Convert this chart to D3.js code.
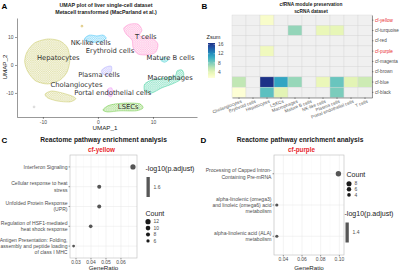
<!DOCTYPE html>
<html>
<head>
<meta charset="utf-8">
<script src="https://d3js.org/d3.v7.min.js"></script>
<style>
    body { margin: 0; background: #fff; }
    svg { display: block; font-family: "Liberation Sans", Arial, sans-serif; }
</style>
</head>
<body>
<div id="chart"></div>
<script>
// ---------- Panel A: UMAP clusters (outline points in UMAP units) ----------
const umapNames = ["Hepatocytes", "Cholangiocytes", "NK-like cells", "T cells", "Mature B cells",
    "Plasma cells", "Macrophages", "Portal endothelial cells", "LSECs"];
const umapColors = ["#b5b52a", "#b5b52a", "#00b0f6", "#ff62bc", "#00bfc4",
    "#9590ff", "#00bf7d", "#e76bf3", "#39b600"];
const umapOutlines = [
    [[-12.9, 4.6], [-11.5, 7.9], [-9.1, 9.3], [-6.9, 8.6], [-5.5, 6.1], [-5.1, 1.8], [-5.6, -2.5], [-6.9, -5.4], [-9.1, -6.8], [-11.3, -5.7], [-12.7, -2.5], [-13.3, 1.1]],
    [[-9.6, -10.4], [-8.4, -9.3], [-6.5, -10], [-4.7, -11.1], [-4, -12.1], [-5.1, -13.2], [-7.3, -12.9], [-9.1, -11.8]],
    [[-2.4, 9.6], [-1.5, 10.7], [-0.2, 10.4], [0.9, 10.7], [1.5, 9.6], [0.5, 8.2], [-1.1, 8.2], [-2.2, 8.6]],
    [[4.7, 13.2], [5.8, 14.6], [7.3, 14.6], [8, 12.5], [7.6, 10.4], [9.8, 9.6], [10.9, 7.5], [10.5, 4.6], [9.1, 3.6], [7.3, 3.9], [6.4, 6.1], [6.2, 8.9], [5.1, 11.1]],
    [[11.6, 2.4], [12.4, 2.6], [12.7, 1.6], [12.1, 1.0], [11.5, 1.5]],
    [[0.7, -1.8], [1.5, -0.7], [2.4, -0.4], [2.5, -1.8], [2, -3.6], [0.9, -3.2]],
    [[8.5, -6.8], [9.8, -5.4], [12.2, -4.6], [14, -3.9], [14.4, -2.1], [15.3, -1.8], [15.6, -3.6], [14.9, -5.4], [13.5, -6.8], [11.6, -8.2], [9.8, -10], [8.5, -9.3]],
    [[1.8, -8.6], [2.5, -8.2], [2.7, -10], [2.4, -11.4], [1.8, -10.7]],
    [[0.9, -16.1], [1.8, -14.6], [3.3, -13.9], [5.5, -13.6], [7.6, -13.9], [8.2, -15.4], [6.9, -16.4], [4, -16.4], [1.8, -16.8]]
];
const umapLabels = ["Hepatocytes", "NK-like cells", "T cells", "Erythroid cells", "Mature B cells",
    "Plasma cells", "Macrophages", "Cholangiocytes", "Portal endothelial cells", "LSECs"];
const umapLabelAt = [[-7.2, 2.5], [-1.3, 7.9], [8.7, 10], [2.2, 5.2], [13.2, 2.5],
    [0.2, -3.6], [13.1, -4.6], [-3.9, -7.1], [2.7, -10], [5.5, -15]];
const umapStrays = [[-2.9, 13.9], [-11.6, -15]];
const umapStrayColors = ["#c9a42c", "#bdbdbd"];
const umapTicks = [-10, 0, 10];

// ---------- Panel B: Zsum heatmap ----------
const heatCols = ["Cholangiocytes", "Erythroid cells", "Hepatocytes", "LSECs", "Macrophages",
    "Mature B cells", "NK-like cells", "Plasma cells", "Portal endothelial cells", "T cells"];
const heatRows = ["cf-yellow", "cf-turquoise", "cf-red", "cf-purple", "cf-magenta", "cf-brown", "cf-blue", "cf-black"];
const heatHighlight = ["cf-yellow", "cf-purple"];
const zsum = [
    [null, null, 2.2, null, null, null, null, null, null, null],
    [null, null, null, null, 7.2, null, 3.5, 3.7, null, null],
    [null, null, null, null, null, null, null, null, null, null],
    [null, null, 3.0, null, null, null, null, null, null, null],
    [null, null, null, null, null, null, null, null, null, null],
    [null, null, null, null, null, null, null, null, null, null],
    [5.7, null, 16.7, 10.9, 7.1, null, 3.4, 8.6, 4.0, 5.2],
    [1.6, null, 9.0, 4.0, null, null, null, 8.0, null, null]
];
const zsumTicks = [4, 8, 12, 16];

// ---------- Panel C: cf-yellow enrichment ----------
const yellowTerms = [["Interferon Signaling"], ["Cellular response to heat", "stress"],
    ["Unfolded Protein Response", "(UPR)"], ["Regulation of HSF1-mediated", "heat shock response"],
    ["Antigen Presentation: Folding,", "assembly and peptide loading", "of class I MHC"]];
const yellowRatio = [0.068, 0.0455, 0.0455, 0.0398, 0.0284];
const yellowCount = [12, 8, 8, 7, 5];
const yellowXTicks = [0.03, 0.04, 0.05, 0.06];
const yellowCountBreaks = [12, 10, 8, 6];
const yellowPadj = "1.6";

// ---------- Panel D: cf-purple enrichment ----------
const purpleTerms = [["Processing of Capped Intron-", "Containing Pre-mRNA"],
    ["alpha-linolenic (omega3)", "and linoleic (omega6) acid", "metabolism"],
    ["alpha-linolenic acid (ALA)", "metabolism"]];
const purpleRatio = [0.099, 0.033, 0.033];
const purpleCount = [9, 3, 3];
const purpleXTicks = [0.04, 0.06, 0.08, 0.10];
const purpleCountBreaks = [8, 6, 4];
const purplePadj = "1.4";

const svg = d3.select("#chart").append("svg")
    .attr("width", 400)
    .attr("height", 271);
const defs = svg.append("defs");

const textGrey = "#4d4d4d";
const red = "#e8262b";

// font size that makes `sample` about `w` px wide
function sizeFor(sample, w, bold, family) {
    const t = svg.append("text")
        .attr("font-size", 10)
        .attr("font-weight", bold ? "bold" : null)
        .attr("font-family", family || null)
        .text(sample);
    const len = t.node().getComputedTextLength();
    t.remove();
    return 10 * w / len;
}

const fsTitleA = sizeFor("Metacell transformed (MacParland et al.)", 102, true);
const fsTitleB = sizeFor("cfRNA module preservation", 63, true);
const fsTitleC = sizeFor("Reactome pathway enrichment analysis", 127, true);
const fsSub = sizeFor("cf-yellow", 27, true);
const fsTerm = sizeFor("Interferon Signaling", 44);
const fsRow = sizeFor("cf-turquoise", 24);
const fsCol = sizeFor("Cholangiocytes", 31);
const fsCluster = sizeFor("Portal endothelial cells", 77, false, "DejaVu Sans");
const fsAxisTitle = 6.2;
const fsLegTitle = sizeFor("-log10(p.adjust)", 49);
const fsZsum = 5.6;
const fsTick = fsTerm * 0.98;

// panel letters
[["A", 1.5, 8.5], ["B", 201.5, 8.5], ["C", 1.5, 143], ["D", 200.5, 143]].forEach(l => {
    svg.append("text")
        .attr("x", l[1]).attr("y", l[2])
        .attr("font-size", 8).attr("font-weight", "bold")
        .text(l[0]);
});

function title(x, y, txt, size, color) {
    svg.append("text")
        .attr("x", x).attr("y", y)
        .attr("text-anchor", "middle")
        .attr("font-size", size)
        .attr("font-weight", "bold")
        .attr("fill", color || "#1a1a1a")
        .text(txt);
}

function styleAxis(g) {
    g.select(".domain").attr("stroke", "#333").attr("stroke-width", 0.5);
    g.selectAll(".tick line").attr("stroke", "#333").attr("stroke-width", 0.5);
    g.selectAll(".tick text").attr("fill", textGrey).attr("font-size", fsTick);
    g.attr("font-size", null).attr("font-family", null);
}

// ================= Panel A =================
title(106, 7, "UMAP plot of liver single-cell dataset", fsTitleA);
title(106, 14.4, "Metacell transformed (MacParland et al.)", fsTitleA);

const xA = d3.scaleLinear().domain([-14.7, 18]).range([17, 197]);
const yA = d3.scaleLinear().domain([-18.6, 16.8]).range([117, 18]);

const gA = svg.append("g");

const blob = d3.line()
    .x(d => xA(d[0]))
    .y(d => yA(d[1]))
    .curve(d3.curveCardinalClosed.tension(0.2));

umapOutlines.forEach((pts, i) => {
    // dotted texture mimics the many hollow points of each cluster
    const pat = defs.append("pattern")
        .attr("id", "pat" + i)
        .attr("patternUnits", "userSpaceOnUse")
        .attr("width", 2.2).attr("height", 2.2);
    pat.append("circle")
        .attr("cx", 1.1).attr("cy", 1.1).attr("r", 0.75)
        .attr("fill", "none")
        .attr("stroke", umapColors[i])
        .attr("stroke-opacity", 0.75)
        .attr("stroke-width", 0.3);

    gA.append("path")
        .attr("d", blob(pts))
        .attr("fill", umapColors[i])
        .attr("fill-opacity", 0.07);
    gA.append("path")
        .attr("d", blob(pts))
        .attr("fill", "url(#pat" + i + ")")
        .attr("stroke", umapColors[i])
        .attr("stroke-width", 0.5)
        .attr("stroke-opacity", 0.7);
});

gA.selectAll(".stray")
    .data(umapStrays)
    .enter().append("circle")
    .attr("class", "stray")
    .attr("cx", d => xA(d[0]))
    .attr("cy", d => yA(d[1]))
    .attr("r", 0.9)
    .attr("fill", "none")
    .attr("stroke", (d, i) => umapStrayColors[i])
    .attr("stroke-width", 0.6);

gA.selectAll(".clabel")
    .data(umapLabels)
    .enter().append("text")
    .attr("class", "clabel")
    .attr("x", (d, i) => xA(umapLabelAt[i][0]))
    .attr("y", (d, i) => yA(umapLabelAt[i][1]))
    .attr("dy", "0.35em")
    .attr("text-anchor", "middle")
    .attr("font-family", "DejaVu Sans")
    .attr("font-size", fsCluster)
    .attr("fill", "#333")
    .text(d => d);

const axA1 = svg.append("g")
    .attr("transform", "translate(0,117)")
    .call(d3.axisBottom(xA).tickValues(umapTicks).tickSize(2).tickSizeOuter(0).tickPadding(1.5).tickFormat(d => String(d)));
styleAxis(axA1);
const axA2 = svg.append("g")
    .attr("transform", "translate(17,0)")
    .call(d3.axisLeft(yA).tickValues(umapTicks).tickSize(2).tickSizeOuter(0).tickPadding(1.5).tickFormat(d => String(d)));
styleAxis(axA2);

svg.append("text")
    .attr("x", 105).attr("y", 130)
    .attr("text-anchor", "middle")
    .attr("font-size", fsAxisTitle).attr("fill", "#1a1a1a")
    .text("UMAP_1");
svg.append("text")
    .attr("transform", "translate(7,67) rotate(-90)")
    .attr("text-anchor", "middle")
    .attr("font-size", fsAxisTitle).attr("fill", "#1a1a1a")
    .text("UMAP_2");

// ================= Panel B =================
title(311, 6.3, "cfRNA module preservation", fsTitleB);
title(311, 12.6, "scRNA dataset", fsTitleB);

const xB = d3.scaleBand().domain(heatCols).range([232, 372]);
const yB = d3.scaleBand().domain(heatRows).range([15, 97.5]);
const zDomain = [1.4, 16.7];
const colorB = d3.scaleSequential(d3.interpolateYlGnBu).domain([1.4, 18.5]);

const cells = [];
heatRows.forEach((r, i) => heatCols.forEach((c, j) => cells.push({ row: r, col: c, v: zsum[i][j] })));

svg.append("g").selectAll("rect")
    .data(cells)
    .enter().append("rect")
    .attr("x", d => xB(d.col))
    .attr("y", d => yB(d.row))
    .attr("width", xB.bandwidth())
    .attr("height", yB.bandwidth())
    .attr("fill", d => d.v == null ? "#f0f0f0" : colorB(d.v))
    .attr("stroke", "#d6d6d6")
    .attr("stroke-width", 0.4);

// right axis with module names
const axBR = svg.append("g")
    .attr("transform", "translate(372,0)")
    .call(d3.axisRight(yB).tickSize(1.5).tickSizeOuter(0).tickPadding(1.5));
styleAxis(axBR);
axBR.selectAll(".tick text")
    .attr("font-size", fsRow)
    .attr("fill", d => heatHighlight.includes(d) ? red : textGrey);

// bottom axis with slanted cell types
const axBB = svg.append("g")
    .attr("transform", "translate(0,97.5)")
    .call(d3.axisBottom(xB).tickSize(1.5).tickSizeOuter(0).tickPadding(0));
styleAxis(axBB);
axBB.selectAll(".tick text")
    .attr("font-size", fsCol)
    .attr("fill", "#5a5a5a")
    .attr("text-anchor", "end")
    .attr("y", 0)
    .attr("dy", 0)
    .attr("transform", "translate(3,5) rotate(-21)");

// Zsum colour bar
const barY = d3.scaleLinear().domain(zDomain).range([78, 43]);
const grad = defs.append("linearGradient")
    .attr("id", "zgrad")
    .attr("x1", 0).attr("y1", 1).attr("x2", 0).attr("y2", 0);
d3.range(0, 1.01, 0.1).forEach(t => {
    grad.append("stop")
        .attr("offset", t)
        .attr("stop-color", colorB(zDomain[0] + t * (zDomain[1] - zDomain[0])));
});
svg.append("text")
    .attr("x", 206.5).attr("y", 38.5)
    .attr("font-size", fsZsum).attr("fill", "#1a1a1a")
    .text("Zsum");
svg.append("rect")
    .attr("x", 208).attr("y", 43)
    .attr("width", 7).attr("height", 35)
    .attr("fill", "url(#zgrad)");
zsumTicks.forEach(t => {
    svg.append("line")
        .attr("x1", 208).attr("x2", 209.5)
        .attr("y1", barY(t)).attr("y2", barY(t))
        .attr("stroke", "#fff").attr("stroke-width", 0.4);
    svg.append("line")
        .attr("x1", 213.5).attr("x2", 215)
        .attr("y1", barY(t)).attr("y2", barY(t))
        .attr("stroke", "#fff").attr("stroke-width", 0.4);
    svg.append("text")
        .attr("x", 218).attr("y", barY(t))
        .attr("dy", "0.35em")
        .attr("font-size", fsTick).attr("fill", textGrey)
        .text(t);
});

// ================= Panels C and D =================
function dotPlot(cfg) {
    const x = d3.scaleLinear().domain(cfg.xDomain).range([cfg.left, cfg.right]);
    const y = d3.scalePoint().domain(d3.range(cfg.terms.length)).range([cfg.top, cfg.bottom]).padding(0.6);
    const area = d3.scaleLinear().domain(cfg.countDomain).range(cfg.areaRange);
    const r = c => Math.sqrt(area(c));

    const g = svg.append("g");

    // gridlines (major and minor)
    const step = cfg.xTicks[1] - cfg.xTicks[0];
    const minor = [];
    for (let v = cfg.xTicks[0] - step / 2; v <= cfg.xDomain[1]; v += step) {
        if (v >= cfg.xDomain[0]) minor.push(v);
    }
    g.selectAll(".minor")
        .data(minor)
        .enter().append("line")
        .attr("x1", d => x(d)).attr("x2", d => x(d))
        .attr("y1", cfg.top).attr("y2", cfg.bottom)
        .attr("stroke", "#f2f2f2").attr("stroke-width", 0.3);
    g.selectAll(".major")
        .data(cfg.xTicks)
        .enter().append("line")
        .attr("x1", d => x(d)).attr("x2", d => x(d))
        .attr("y1", cfg.top).attr("y2", cfg.bottom)
        .attr("stroke", "#e6e6e6").attr("stroke-width", 0.5);
    g.selectAll(".hline")
        .data(cfg.terms)
        .enter().append("line")
        .attr("x1", cfg.left).attr("x2", cfg.right)
        .attr("y1", (d, i) => y(i)).attr("y2", (d, i) => y(i))
        .attr("stroke", "#e6e6e6").attr("stroke-width", 0.5);

    g.append("rect")
        .attr("x", cfg.left).attr("y", cfg.top)
        .attr("width", cfg.right - cfg.left).attr("height", cfg.bottom - cfg.top)
        .attr("fill", "none")
        .attr("stroke", "#bdbdbd").attr("stroke-width", 0.6);

    g.selectAll(".dot")
        .data(cfg.ratio)
        .enter().append("circle")
        .attr("cx", d => x(d))
        .attr("cy", (d, i) => y(i))
        .attr("r", (d, i) => r(cfg.count[i]))
        .attr("fill", "#555");

    // term labels, wrapped lines centred on each row
    const lh = fsTerm * 1.22;
    cfg.terms.forEach((lines, i) => {
        const t = g.append("text")
            .attr("text-anchor", "end")
            .attr("font-size", fsTerm)
            .attr("fill", textGrey);
        lines.forEach((ln, k) => {
            t.append("tspan")
                .attr("x", cfg.left - 2.5)
                .attr("y", y(i) + (k - (lines.length - 1) / 2) * lh)
                .attr("dy", "0.35em")
                .text(ln);
        });
        g.append("line")
            .attr("x1", cfg.left - 1.5).attr("x2", cfg.left)
            .attr("y1", y(i)).attr("y2", y(i))
            .attr("stroke", "#333").attr("stroke-width", 0.5);
    });

    g.selectAll(".xt")
        .data(cfg.xTicks)
        .enter().append("line")
        .attr("x1", d => x(d)).attr("x2", d => x(d))
        .attr("y1", cfg.bottom).attr("y2", cfg.bottom + 1.5)
        .attr("stroke", "#333").attr("stroke-width", 0.5);
    g.selectAll(".xl")
        .data(cfg.xTicks)
        .enter().append("text")
        .attr("x", d => x(d))
        .attr("y", cfg.bottom + 2.5)
        .attr("dy", "0.75em")
        .attr("text-anchor", "middle")
        .attr("font-size", fsTick)
        .attr("fill", textGrey)
        .text(d => d.toFixed(2));
    g.append("text")
        .attr("x", (cfg.left + cfg.right) / 2)
        .attr("y", 270)
        .attr("text-anchor", "middle")
        .attr("font-size", fsAxisTitle)
        .attr("fill", "#1a1a1a")
        .text("GeneRatio");

    // colour legend (single p.adjust level)
    g.append("text")
        .attr("x", cfg.padjAt[0]).attr("y", cfg.padjAt[1])
        .attr("dy", "0.35em")
        .attr("font-size", fsLegTitle).attr("fill", "#1a1a1a")
        .text("-log10(p.adjust)");
    g.append("rect")
        .attr("x", cfg.padjAt[0] + 1).attr("y", cfg.padjAt[1] + 8.5)
        .attr("width", 3.3).attr("height", 20)
        .attr("fill", "#575757");
    g.append("text")
        .attr("x", cfg.padjAt[0] + 8).attr("y", cfg.padjAt[1] + 18.5)
        .attr("dy", "0.35em")
        .attr("font-size", fsTick).attr("fill", textGrey)
        .text(cfg.padj);

    // size legend
    g.append("text")
        .attr("x", cfg.countAt[0]).attr("y", cfg.countAt[1])
        .attr("dy", "0.35em")
        .attr("font-size", fsLegTitle).attr("fill", "#1a1a1a")
        .text("Count");
    cfg.countBreaks.forEach((c, k) => {
        const cy = cfg.countAt[1] + cfg.countFirst + k * cfg.countGap;
        g.append("circle")
            .attr("cx", cfg.countAt[0] + 2.5).attr("cy", cy)
            .attr("r", r(c))
            .attr("fill", "#1a1a1a");
        g.append("text")
            .attr("x", cfg.countAt[0] + 8).attr("y", cy)
            .attr("dy", "0.35em")
            .attr("font-size", fsTick).attr("fill", textGrey)
            .text(c);
    });
}

title(103.5, 142.3, "Reactome pathway enrichment analysis", fsTitleC);
title(101.5, 151.8, "cf-yellow", fsSub, red);
dotPlot({
    terms: yellowTerms, ratio: yellowRatio, count: yellowCount,
    xTicks: yellowXTicks, countBreaks: yellowCountBreaks, padj: yellowPadj,
    xDomain: [0.026, 0.0707], left: 70, right: 137, top: 155, bottom: 258,
    countDomain: [5, 12], areaRange: [1.96, 6.76],
    padjAt: [145.5, 168.5], countAt: [145.5, 213.3], countGap: 6.4, countFirst: 8.4
});

title(300, 142.3, "Reactome pathway enrichment analysis", fsTitleC);
title(301.5, 151.8, "cf-purple", fsSub, red);
dotPlot({
    terms: purpleTerms, ratio: purpleRatio, count: purpleCount,
    xTicks: purpleXTicks, countBreaks: purpleCountBreaks, padj: purplePadj,
    xDomain: [0.030, 0.105], left: 274, right: 344, top: 155, bottom: 255,
    countDomain: [3, 9], areaRange: [2.56, 7.29],
    padjAt: [344.5, 214], countAt: [346.5, 174.3], countGap: 5.6, countFirst: 9.4
});
</script>
</body>
</html>
